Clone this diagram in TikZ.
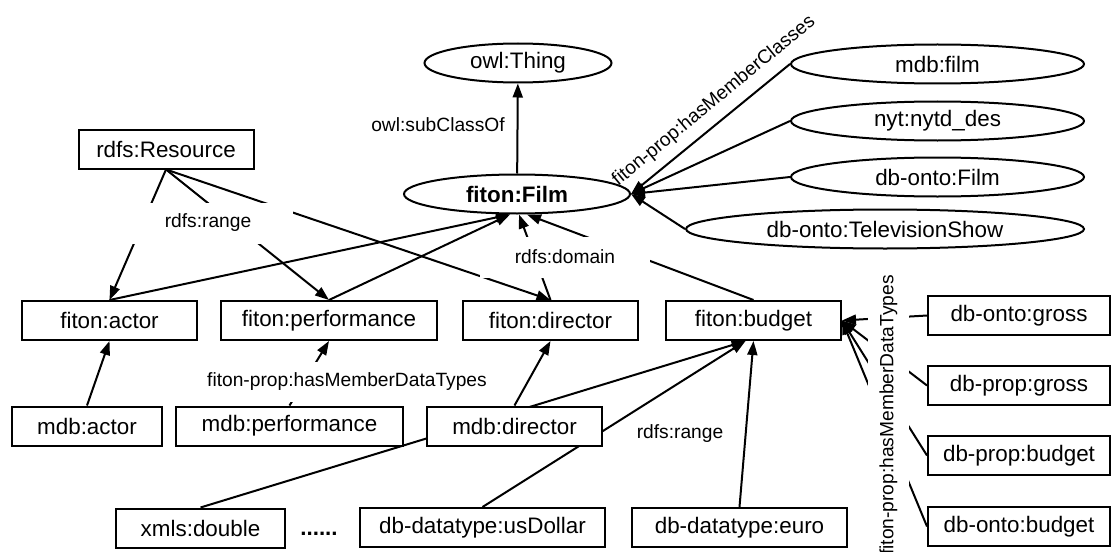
\documentclass[tikz,border=0pt]{standalone}
\usepackage{fontspec}
\setmainfont{Liberation Sans}
\usetikzlibrary{arrows.meta,shapes.geometric}
\pgfdeclarelayer{bg}
\pgfsetlayers{bg,main}

\begin{document}
\begin{tikzpicture}[x=0.5pt,y=-0.5pt,
  every node/.style={font=\fontsize{11.2}{13}\selectfont, line width=1pt},
  cls/.style={draw, ellipse, fill=white, minimum height=19.5pt, inner sep=0pt},
  box/.style={draw, rectangle, fill=white, minimum height=19.5pt, inner sep=0pt},
  lbl/.style={font=\fontsize{9.6}{11.5}\selectfont, inner sep=0pt},
  gaplbl/.style={lbl, fill=white, minimum height=20.5pt, minimum width=85pt},
  link/.style={line width=1pt, -{Triangle[length=7pt,width=5pt]}},
]
\useasboundingbox (0,0) rectangle (1112,551);

% classes (ellipses)
\node[cls, minimum width=93.5pt] (thing) at (518,63) {owl:Thing};
\node[cls, minimum width=113pt, font=\fontsize{11.2}{13}\selectfont\bfseries] (film) at (517,194) {fiton:Film};
\node[cls, minimum width=146.5pt] (mfilm) at (937.5,64) {mdb:film};
\node[cls, minimum width=146.5pt] (nyt) at (937.5,121) {nyt:nytd\_des};
\node[cls, minimum width=146.5pt] (dbfilm) at (937.5,177) {db-onto:Film};
\node[cls, minimum width=199pt] (tv) at (885,229) {db-onto:TelevisionShow};

% properties and datatypes (boxes)
\node[box, minimum width=87.5pt] (res) at (166,149) {rdfs:Resource};
\node[box, minimum width=87.5pt] (fact) at (109.5,320.5) {fiton:actor};
\node[box, minimum width=108pt] (fperf) at (329,320.5) {fiton:performance};
\node[box, minimum width=87.5pt] (fdir) at (550.5,320.5) {fiton:director};
\node[box, minimum width=87.5pt] (fbud) at (753.5,320.5) {fiton:budget};
\node[box, minimum width=75pt] (mact) at (87,426) {mdb:actor};
\node[box, minimum width=113.5pt] (mperf) at (289.5,426) {mdb:performance};
\node[box, minimum width=87.5pt] (mdir) at (514.5,426) {mdb:director};
\node[box, minimum width=84.5pt] (xdbl) at (200.5,528) {xmls:double};
\node[anchor=base, font=\fontsize{11.2}{13}\selectfont\bfseries] (dots) at (319,535) {......};
\node[box, minimum width=122.5pt] (usd) at (482.5,527.5) {db-datatype:usDollar};
\node[box, minimum width=107.5pt] (euro) at (739.5,527.5) {db-datatype:euro};
\node[box, minimum width=91pt] (dog) at (1019,315.5) {db-onto:gross};
\node[box, minimum width=91pt] (dpg) at (1019,385.5) {db-prop:gross};
\node[box, minimum width=91pt] (dpb) at (1019,455.5) {db-prop:budget};
\node[box, minimum width=91pt] (dob) at (1019,526.5) {db-onto:budget};

% edge labels
\node[lbl] (lsub) at (438,125) {owl:subClassOf};
\node[gaplbl] (lrange) at (208,223) {rdfs:range};
\node[gaplbl] (ldom) at (565,257) {rdfs:domain};
\node[lbl, fill=white, minimum height=20pt, inner xsep=3pt] (ldt1) at (347,382) {fiton-prop:hasMemberDataTypes};
\node[lbl] (lrange2) at (680,434) {rdfs:range};
\node[lbl, fill=white, minimum height=20.5pt, inner xsep=3pt, rotate=90] (ldt2) at (888.5,415) {fiton-prop:hasMemberDataTypes};
\node[lbl, rotate=39.5] (lcls) at (714,101) {fiton-prop:hasMemberClasses};

% connectors, drawn beneath nodes and labels
\begin{pgfonlayer}{bg}
\draw[link] (film) -- (thing);
\draw[link] (mfilm.west) -- (film.east);
\draw[link] (nyt.west) -- (film.east);
\draw[link] (dbfilm.west) -- (film.east);
\draw[link] (tv.west) -- (film.east);
\draw[link] (res.south) -- (fact.north);
\draw[link] (res.south) -- (fperf.north);
\draw[link] (res.south) -- (fdir.north);
\coordinate (fa) at ([xshift=-3.5pt]film.south);
\coordinate (fb) at ([xshift=1pt]film.south);
\coordinate (fc) at ([xshift=5pt]film.south);
\draw[link] (fact.north) -- (fa);
\draw[link] (fperf.north) -- (fa);
\draw[link] (fdir.north) -- (fb);
\draw[link] (fbud.north) -- (fc);
\draw[link] (mact.north) -- (fact.south);
\draw[link] (mperf.north) -- (fperf.south);
\draw[link] (mdir.north) -- (fdir.south);
\coordinate (bb) at ([xshift=-4pt]fbud.south);
\draw[link] (xdbl.north) -- (bb);
\draw[link] (usd.north) -- (bb);
\draw[link] (euro.north) -- (fbud.south);
\draw[link] (dog.west) -- (fbud.east);
\draw[link] (dpg.west) -- (fbud.east);
\draw[link] (dpb.west) -- (fbud.east);
\draw[link] (dob.west) -- (fbud.east);
\end{pgfonlayer}
\end{tikzpicture}
\end{document}
